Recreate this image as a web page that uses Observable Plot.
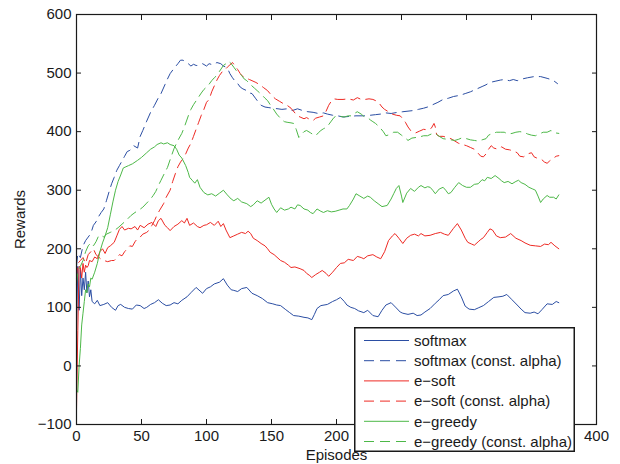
<!DOCTYPE html>
<html><head><meta charset="utf-8">
<script src="https://cdn.jsdelivr.net/npm/d3@7"></script>
<script src="https://cdn.jsdelivr.net/npm/@observablehq/plot@0.6"></script>
<style>
body{margin:0;background:#fff;}
#wrap{position:relative;width:620px;height:464px;font-family:"Liberation Sans",Arial,sans-serif;}
#legend{position:absolute;left:354px;top:327px;}
</style></head><body><div id="wrap"><div id="chart"></div><div id="legend"></div></div>
<script>
const xTicks = [0, 50, 100, 150, 200, 250, 300, 350, 400];
// labels at 250, 300, 350 sit behind the legend box in the reference
const xTickLabels = [0, 50, 100, 150, 200, 400];
const yTicks = [-100, 0, 100, 200, 300, 400, 500, 600];
const xLabel = "Episodes";
const yLabel = "Rewards";
const seriesNames = ["softmax", "softmax (const. alpha)", "e\u2212soft", "e\u2212soft (const. alpha)", "e\u2212greedy", "e\u2212greedy (const. alpha)"];
const seriesColors = ["#2b4ea3", "#2b4ea3", "#ee2a24", "#ee2a24", "#4db848", "#4db848"];
const seriesDashed = [false, true, false, true, false, true];

// [episode, reward]
const softmax = [[0,60],[1,170],[2,95],[3,165],[4,120],[5,150],[6,130],[7,160],[8,125],[9,145],[10,118],[11,130],[12,110],[14,106],[16,112],[18,103],[21,105],[24,108],[27,100],[30,95],[32,103],[34,105],[37,100],[40,98],[43,97],[46,104],[49,103],[52,98],[54,100],[57,105],[60,108],[63,113],[66,107],[69,103],[72,104],[75,108],[78,106],[81,112],[85,118],[88,125],[92,134],[95,128],[97,124],[100,132],[103,135],[106,140],[110,143],[113,149],[116,138],[119,130],[121,129],[124,127],[127,132],[131,134],[135,124],[139,120],[143,115],[147,108],[151,106],[154,104],[157,103],[161,96],[164,91],[167,86],[171,85],[175,83],[178,82],[181,79],[183,88],[185,98],[188,103],[193,105],[197,110],[200,113],[203,117],[206,110],[208,104],[211,100],[214,98],[217,94],[221,91],[224,95],[228,86],[232,84],[235,95],[238,104],[242,108],[246,99],[249,92],[251,90],[255,88],[259,90],[262,86],[265,87],[268,92],[272,98],[276,107],[279,113],[282,120],[286,122],[290,128],[293,131],[296,118],[299,102],[302,97],[306,96],[309,99],[313,103],[317,110],[321,117],[325,118],[328,119],[331,122],[335,113],[339,104],[342,97],[345,91],[349,90],[352,92],[355,89],[358,96],[362,106],[366,105],[369,110],[371,108]];

const softmaxConst = [[0,170],[1,192],[3,185],[5,205],[7,214],[9,220],[11,226],[13,240],[15,246],[17,255],[19,262],[21,268],[23,282],[25,297],[27,311],[29,322],[31,334],[33,342],[35,350],[37,358],[39,366],[41,368],[44,376],[47,372],[49,392],[51,402],[54,418],[57,433],[60,445],[63,458],[65,465],[68,480],[70,490],[72,499],[75,508],[78,516],[80,522],[82,522],[84,518],[86,516],[88,512],[90,515],[92,513],[94,513],[97,516],[100,512],[102,516],[105,514],[108,518],[111,516],[113,512],[115,510],[117,504],[118,499],[120,492],[122,486],[124,482],[126,476],[128,473],[131,470],[133,466],[135,465],[138,456],[140,450],[142,445],[145,442],[148,441],[151,440],[155,439],[158,438],[162,439],[166,436],[170,439],[174,436],[178,434],[182,433],[186,431],[190,432],[193,430],[197,428],[201,427],[205,425],[210,426],[215,427],[221,427],[226,428],[230,429],[234,430],[238,432],[242,431],[247,433],[251,434],[255,435],[259,436],[263,438],[267,440],[270,442],[274,446],[278,450],[282,455],[286,457],[290,460],[295,462],[299,465],[303,468],[308,473],[312,477],[315,480],[318,484],[322,486],[326,488],[329,489],[333,487],[336,489],[339,487],[343,490],[347,492],[352,494],[357,494],[362,491],[365,489],[367,487],[370,482]];

const eSoft = [[0,-75],[1,60],[2,170],[3,168],[4,150],[5,175],[6,160],[7,172],[8,168],[9,171],[10,180],[12,178],[14,186],[16,183],[18,195],[20,200],[22,192],[24,202],[26,205],[29,211],[31,222],[33,233],[35,238],[37,232],[40,235],[42,234],[45,238],[47,232],[49,240],[52,236],[55,242],[58,245],[61,238],[63,248],[65,252],[68,240],[70,236],[72,231],[75,238],[78,242],[81,248],[83,244],[85,252],[87,240],[90,244],[93,238],[95,236],[98,240],[100,241],[103,245],[106,240],[109,247],[111,238],[113,243],[115,232],[118,219],[121,222],[124,225],[127,228],[130,226],[132,230],[134,226],[136,218],[139,214],[142,209],[145,205],[147,200],[149,194],[152,190],[155,184],[157,180],[160,177],[163,172],[165,168],[168,169],[172,166],[175,163],[177,158],[179,155],[181,151],[184,156],[187,160],[189,163],[192,158],[194,153],[197,160],[200,168],[203,175],[206,176],[209,182],[213,180],[216,187],[219,185],[221,183],[224,188],[228,190],[231,186],[234,183],[237,195],[240,214],[243,222],[245,226],[248,218],[251,209],[254,218],[257,223],[260,225],[263,222],[265,226],[268,222],[272,223],[276,226],[280,228],[283,225],[286,223],[290,235],[293,243],[296,232],[299,218],[301,211],[304,208],[306,206],[309,212],[311,216],[313,219],[316,228],[318,234],[320,232],[323,222],[326,219],[330,220],[334,226],[338,218],[342,214],[345,210],[349,206],[353,205],[357,204],[360,208],[363,207],[365,211],[368,205],[371,200]];

const eSoftConst = [[0,150],[1,175],[3,180],[5,185],[7,175],[9,190],[11,195],[13,200],[15,190],[17,186],[19,182],[21,180],[24,178],[27,180],[29,180],[31,185],[33,190],[35,188],[37,195],[39,200],[41,205],[43,204],[45,212],[47,218],[49,220],[51,225],[54,228],[56,232],[58,240],[60,248],[62,258],[64,266],[67,277],[69,288],[72,300],[74,315],[76,328],[78,340],[80,348],[82,354],[84,362],[86,372],[88,380],[90,392],[92,404],[94,416],[96,428],[98,438],[100,450],[102,455],[104,468],[106,478],[108,488],[110,496],[112,502],[114,505],[116,510],[118,514],[120,518],[122,512],[124,506],[126,499],[128,494],[130,492],[133,489],[135,487],[138,484],[141,480],[144,475],[147,470],[150,462],[153,456],[156,452],[159,448],[162,445],[165,440],[168,432],[170,427],[172,425],[175,422],[177,424],[180,420],[182,419],[184,423],[187,425],[190,427],[192,435],[194,445],[196,452],[198,456],[201,455],[205,455],[209,456],[213,454],[216,458],[219,455],[222,455],[225,456],[228,455],[231,452],[233,448],[235,442],[237,438],[240,434],[243,430],[246,428],[249,427],[251,422],[253,416],[255,408],[257,402],[259,399],[261,398],[264,401],[267,404],[270,403],[273,406],[275,414],[276,408],[277,395],[279,392],[282,392],[285,390],[288,388],[291,384],[294,380],[297,378],[300,376],[303,373],[306,370],[309,363],[311,358],[313,357],[315,362],[317,370],[319,376],[321,372],[324,370],[327,374],[330,370],[333,369],[336,367],[339,364],[341,358],[344,357],[347,362],[350,364],[352,357],[355,354],[358,352],[360,348],[362,346],[364,350],[367,355],[369,358],[371,359]];

const eGreedy = [[0,-40],[1,-45],[2,0],[3,30],[4,70],[5,90],[6,110],[7,130],[8,125],[9,140],[10,135],[11,150],[12,148],[14,160],[16,175],[18,195],[20,210],[22,222],[24,236],[26,258],[28,280],[30,300],[32,315],[34,326],[36,338],[38,340],[40,342],[43,345],[47,351],[50,356],[54,364],[57,370],[60,374],[62,378],[65,381],[67,379],[70,381],[72,378],[75,376],[77,370],[79,360],[81,355],[84,342],[86,330],[87,322],[89,317],[91,312],[93,318],[95,305],[98,296],[101,292],[104,294],[107,290],[110,295],[113,300],[116,292],[119,285],[121,282],[124,286],[127,280],[131,277],[134,272],[136,275],[139,282],[142,278],[145,283],[148,288],[150,276],[152,268],[154,262],[157,270],[160,266],[163,268],[165,271],[168,268],[170,275],[172,274],[175,268],[178,266],[180,262],[182,260],[185,268],[188,264],[190,262],[193,265],[196,263],[199,264],[202,266],[205,268],[208,268],[210,274],[213,285],[215,294],[218,290],[221,286],[224,290],[226,288],[229,282],[232,277],[235,272],[239,274],[242,285],[244,294],[246,303],[248,308],[250,290],[251,279],[254,295],[257,303],[260,298],[263,305],[265,308],[268,304],[270,306],[272,305],[274,300],[276,294],[279,302],[282,305],[284,300],[286,294],[288,296],[291,305],[294,313],[297,308],[300,305],[303,305],[306,310],[309,311],[312,318],[314,316],[316,322],[319,320],[322,325],[325,320],[327,316],[329,313],[332,315],[335,311],[338,315],[340,317],[342,313],[345,310],[348,305],[351,302],[353,300],[355,290],[357,279],[359,285],[362,291],[364,288],[367,288],[369,285],[371,292]];

const eGreedyConst = [[0,140],[1,160],[3,170],[5,180],[7,195],[9,205],[11,210],[13,205],[15,212],[17,222],[19,223],[21,220],[23,225],[26,228],[29,231],[32,236],[35,242],[38,248],[42,257],[45,262],[48,266],[51,271],[54,278],[57,285],[59,291],[61,298],[63,308],[65,317],[67,326],[70,339],[72,352],[75,371],[78,385],[81,397],[83,408],[86,427],[88,438],[90,446],[93,456],[96,466],[98,472],[101,478],[104,487],[106,492],[108,496],[110,503],[113,513],[115,516],[117,520],[119,516],[121,510],[123,504],[125,500],[127,496],[129,490],[131,487],[133,482],[135,478],[137,474],[139,470],[141,466],[143,462],[145,457],[147,453],[149,446],[151,440],[154,430],[156,425],[158,420],[160,417],[162,416],[165,415],[167,414],[169,404],[171,390],[173,395],[175,400],[177,402],[180,398],[182,395],[184,393],[186,398],[188,402],[190,405],[192,407],[194,412],[196,418],[198,424],[200,427],[203,426],[206,425],[209,427],[211,427],[213,430],[216,434],[219,430],[221,426],[224,424],[226,420],[228,417],[230,414],[233,408],[236,400],[238,393],[241,395],[244,399],[247,399],[250,394],[253,389],[255,385],[258,389],[261,390],[264,391],[267,393],[270,393],[273,396],[276,397],[279,392],[282,388],[285,387],[288,386],[291,385],[294,387],[297,390],[300,388],[303,386],[306,385],[309,384],[312,386],[315,388],[317,394],[320,397],[323,399],[326,399],[329,399],[332,396],[335,397],[338,399],[341,400],[344,399],[347,396],[350,394],[353,393],[356,396],[359,399],[362,399],[365,402],[368,398],[371,397]];

const seriesData = [softmax, softmaxConst, eSoft, eSoftConst, eGreedy, eGreedyConst];
const dash = "10,6";
const ink = "#1a1a1a";

const lines = seriesData.map((data, i) => Plot.line(data, {
  x: d => d[0], y: d => d[1], stroke: seriesColors[i], strokeWidth: 1,
  strokeDasharray: seriesDashed[i] ? dash : null
}));

const chart = Plot.plot({
  width: 620, height: 464,
  marginLeft: 76, marginRight: 24, marginTop: 14, marginBottom: 40,
  x: {domain: [0, 400]},
  y: {domain: [-100, 600]},
  style: {fontFamily: "'Liberation Sans', Arial, sans-serif", fontSize: "15px", color: ink, background: "#fff", overflow: "visible"},
  marks: [
    ...lines,
    Plot.frame({stroke: ink, strokeWidth: 1.2}),
    Plot.axisX(xTicks, {anchor: "bottom", tickSize: 5, dy: -5, fill: "none", label: null, stroke: ink}),
    Plot.axisX(xTicks, {anchor: "top", tickSize: 5, dy: 5, fill: "none", label: null, stroke: ink}),
    Plot.axisY(yTicks, {anchor: "left", tickSize: 5, dx: 5, fill: "none", label: null, stroke: ink}),
    Plot.axisY(yTicks, {anchor: "right", tickSize: 5, dx: -5, fill: "none", label: null, stroke: ink}),
    Plot.axisX(xTickLabels, {anchor: "bottom", tickSize: 0, tickPadding: 6, fill: ink, label: xLabel, labelAnchor: "center", labelArrow: "none", labelOffset: 35}),
    Plot.axisY(yTicks, {anchor: "left", tickSize: 0, tickPadding: 5, fill: ink, label: yLabel, labelAnchor: "center", labelArrow: "none", labelOffset: 62})
  ]
});
document.getElementById("chart").appendChild(chart);

// legend
const lw = 221, lh = 125, rowH = 20.2, row0 = 13.5;
const leg = d3.select("#legend").append("svg").attr("width", lw).attr("height", lh)
  .style("display", "block");
leg.append("rect").attr("x", 0.75).attr("y", 0.75).attr("width", lw - 1.5).attr("height", lh - 1.5)
  .attr("fill", "#fff").attr("stroke", ink).attr("stroke-width", 1.5);
const rows = leg.selectAll("g.row").data(seriesNames).join("g")
  .attr("transform", (d, i) => `translate(0,${row0 + i * rowH})`);
rows.append("line").attr("x1", 10).attr("x2", 55).attr("y1", 0).attr("y2", 0)
  .attr("stroke", (d, i) => seriesColors[i]).attr("stroke-width", 1)
  .attr("stroke-dasharray", (d, i) => seriesDashed[i] ? dash : null);
rows.append("text").attr("x", 60).attr("y", 0).attr("dy", "0.35em")
  .attr("fill", ink).style("font-family", "'Liberation Sans', Arial, sans-serif").style("font-size", "15px")
  .text(d => d);
</script></body></html>
